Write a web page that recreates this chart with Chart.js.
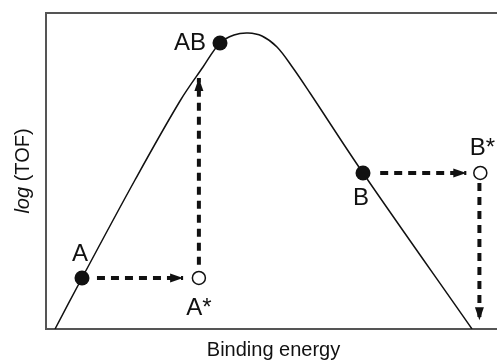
<!DOCTYPE html>
<html>
<head>
<meta charset="utf-8">
<script src="https://cdn.jsdelivr.net/npm/chart.js@4.4.1/dist/chart.umd.min.js"></script>
<style>
  html, body { margin: 0; padding: 0; background: #fff; }
  #wrap { width: 497px; height: 360px; }
</style>
</head>
<body>
<div id="wrap"><canvas id="myChart"></canvas></div>
<script>
// volcano curve, log(TOF) vs binding energy (arbitrary units 0..10)
var curveX = [0.200, 0.798, 1.973, 2.971, 3.481, 3.858, 4.169, 4.479, 4.789, 5.122, 5.477, 5.854, 7.029, 9.446];
var curveY = [0.000, 1.614, 4.715, 7.215, 8.291, 9.051, 9.304, 9.367, 9.272, 8.924, 8.259, 7.468, 4.937, 0.000];

// catalysts on the curve (filled) and their hypothetical positions (open)
var dotLabels = ['A', 'AB', 'B'];
var dotX = [0.798, 3.858, 7.029];
var dotY = [1.614, 9.051, 4.937];

var starLabels = ['A*', 'B*'];
var starX = [3.39, 9.63];
var starY = [1.614, 4.937];

// dashed arrows: start -> tip
var arrowFromX = [1.13, 3.39, 7.41, 9.61];
var arrowFromY = [1.614, 2.03, 4.937, 4.62];
var arrowToX   = [3.04, 3.39, 9.32, 9.61];
var arrowToY   = [1.614, 7.94, 4.937, 0.28];

var xTitle = 'Binding energy';
var yTitleItalic = 'log';
var yTitleRest = ' (TOF)';

var FONT = '"Liberation Sans", Arial, Helvetica, sans-serif';

var curve = [];
for (let i = 0; i < curveX.length; i++) {
  curve.push({x: curveX[i], y: curveY[i]});
}
var dots = [];
for (let i = 0; i < dotX.length; i++) {
  dots.push({x: dotX[i], y: dotY[i]});
}
var stars = [];
for (let i = 0; i < starX.length; i++) {
  stars.push({x: starX[i], y: starY[i]});
}

var datasets = [];
// dashed shafts (arrowheads added by the plugin)
for (let i = 0; i < arrowFromX.length; i++) {
  datasets.push({
    data: [{x: arrowFromX[i], y: arrowFromY[i]}, {x: arrowToX[i], y: arrowToY[i]}],
    showLine: true,
    borderColor: '#111',
    borderWidth: 4,
    borderDash: [8, 6],
    pointRadius: 0
  });
}
datasets.push({
  data: curve,
  showLine: true,
  borderColor: '#111',
  borderWidth: 1.5,
  tension: 0.35,
  pointRadius: 0
});
datasets.push({
  data: dots,
  pointRadius: 7.5,
  pointBackgroundColor: '#111',
  pointBorderWidth: 0
});
datasets.push({
  data: stars,
  pointRadius: 6.5,
  pointBackgroundColor: '#fff',
  pointBorderColor: '#111',
  pointBorderWidth: 1.5
});

// label offsets in pixels, [dx, dy] from the marker centre
var dotLabelOffsets = [[-2, -24], [-30, 0], [-2, 25]];
var starLabelOffsets = [[0, 30], [2, -25]];

const annotate = {
  id: 'annotate',
  afterDatasetsDraw(chart) {
    const c = chart.ctx;
    const xs = chart.scales.x, ys = chart.scales.y;
    // arrowheads at each tip
    c.save();
    c.fillStyle = '#111';
    for (let i = 0; i < arrowToX.length; i++) {
      const x0 = xs.getPixelForValue(arrowFromX[i]), y0 = ys.getPixelForValue(arrowFromY[i]);
      const x1 = xs.getPixelForValue(arrowToX[i]), y1 = ys.getPixelForValue(arrowToY[i]);
      const a = Math.atan2(y1 - y0, x1 - x0);
      const len = 13, half = 4.5;
      c.save();
      c.translate(x1, y1);
      c.rotate(a);
      c.beginPath();
      c.moveTo(0, 0);
      c.lineTo(-len, -half);
      c.lineTo(-len, half);
      c.closePath();
      c.fill();
      c.restore();
    }
    // labels
    c.font = '24px ' + FONT;
    c.textAlign = 'center';
    c.textBaseline = 'middle';
    for (let i = 0; i < dotLabels.length; i++) {
      c.fillText(dotLabels[i], xs.getPixelForValue(dotX[i]) + dotLabelOffsets[i][0], ys.getPixelForValue(dotY[i]) + dotLabelOffsets[i][1]);
    }
    for (let i = 0; i < starLabels.length; i++) {
      c.fillText(starLabels[i], xs.getPixelForValue(starX[i]) + starLabelOffsets[i][0], ys.getPixelForValue(starY[i]) + starLabelOffsets[i][1]);
    }
    // axis titles
    const area = chart.chartArea;
    c.font = '20px ' + FONT;
    c.fillText(xTitle, (area.left + area.right) / 2 + 2, area.bottom + 21);
    c.save();
    c.translate(area.left - 23, (area.top + area.bottom) / 2);
    c.rotate(-Math.PI / 2);
    c.font = 'italic 20px ' + FONT;
    const w1 = c.measureText(yTitleItalic).width;
    c.font = '20px ' + FONT;
    const w2 = c.measureText(yTitleRest).width;
    c.textAlign = 'left';
    c.font = 'italic 20px ' + FONT;
    c.fillText(yTitleItalic, -(w1 + w2) / 2, 0);
    c.font = '20px ' + FONT;
    c.fillText(yTitleRest, -(w1 + w2) / 2 + w1, 0);
    c.restore();
    c.restore();
  }
};

const hidden = {
  grid: { display: false, drawTicks: false },
  ticks: { display: false },
  border: { display: true, color: '#555', width: 2 }
};

new Chart(document.getElementById('myChart'), {
  type: 'scatter',
  data: { datasets: datasets },
  options: {
    responsive: true,
    maintainAspectRatio: false,
    animation: false,
    events: [],
    layout: { autoPadding: false, padding: { left: 46, top: 13, right: 0, bottom: 31 } },
    plugins: { legend: { display: false }, tooltip: { enabled: false } },
    scales: {
      x: Object.assign({ type: 'linear', position: 'bottom', min: 0, max: 10 }, hidden),
      xTop: Object.assign({ type: 'linear', position: 'top', min: 0, max: 10 }, hidden),
      y: Object.assign({ type: 'linear', position: 'left', min: 0, max: 10 }, hidden)
    }
  },
  plugins: [annotate]
});
</script>
</body>
</html>
